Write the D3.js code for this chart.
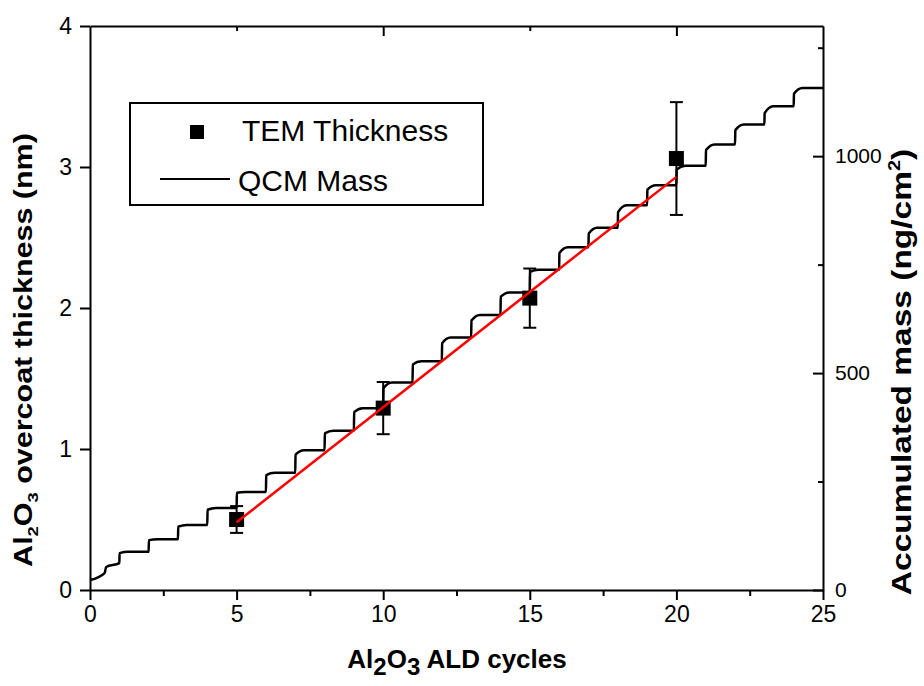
<html>
<head>
  <meta charset="utf-8">
  <title>Al2O3 overcoat thickness vs ALD cycles</title>
  <script src="https://d3js.org/d3.v7.min.js"></script>
  <style>
    body { margin: 0; background: #fff; }
    text { font-family: "Liberation Sans", Arial, sans-serif; fill: #000; }
    .axis path, .axis line { stroke: #000; stroke-width: 2; }
    .axis text { font-size: 23px; }
  </style>
</head>
<body>
<script>
// ---- data ----
// TEM thickness points (nm) with error bars
const temCycles = [5, 10, 15, 20];
const temThickness = [0.50, 1.29, 2.07, 3.06];
const temError = [0.095, 0.185, 0.21, 0.40];

// red linear fit (end points, nm)
const fitCycles = [5, 20];
const fitThickness = [0.48, 2.93];

// QCM mass (ng/cm2): first cycle trace, then one plateau per ALD cycle
const qcmFirstCycles = [0, 0.5, 0.55, 1];
const qcmFirstMass = [23, 39, 53, 62];
const qcmStepCycles = [1, 2, 3, 4, 5, 6, 7, 8, 9, 10, 11, 12, 13, 14, 15, 16, 17, 18, 19, 20, 21, 22, 23, 24];
const qcmStepLow = [85, 115, 146, 185, 224, 265, 312, 361, 410, 465, 520, 569, 621, 676, 733, 777, 822, 871, 923, 969, 1014, 1060, 1099, 1144];
const qcmStepHigh = [88, 117, 150, 189, 226, 270, 322, 367, 419, 478, 527, 582, 634, 686, 738, 790, 835, 887, 933, 978, 1027, 1073, 1115, 1157];

// ticks
const xTicks = [0, 5, 10, 15, 20, 25];
const xMinor = [2.5, 7.5, 12.5, 17.5, 22.5];
const topMajor = [10, 20];
const topMinor = [5, 15];
const yLeftTicks = [0, 1, 2, 3, 4];
const yRightTicks = [0, 500, 1000];
const yRightMinor = [250, 750, 1250];

const width = 924, height = 686;
const plotL = 90, plotR = 823, plotT = 26, plotB = 590;

const svg = d3.select('body').append('svg')
  .attr('width', width)
  .attr('height', height);

const x = d3.scaleLinear().domain([0, 25]).range([plotL, plotR]);
const yL = d3.scaleLinear().domain([0, 4]).range([plotB, plotT]);
const yR = d3.scaleLinear().domain([0, 1300]).range([plotB, plotT]);
const fmt = d3.format('d');

// minor ticks first so the main axes sit on top
svg.append('g').attr('class', 'axis')
  .attr('transform', `translate(0,${plotB})`)
  .call(d3.axisBottom(x).tickValues(xMinor).tickSize(6).tickSizeOuter(0).tickFormat(''))
  .select('.domain').remove();

svg.append('g').attr('class', 'axis')
  .attr('transform', `translate(0,${plotT})`)
  .call(d3.axisTop(x).tickValues(topMinor).tickSize(-5).tickSizeOuter(0).tickFormat(''))
  .select('.domain').remove();

svg.append('g').attr('class', 'axis')
  .attr('transform', `translate(0,${plotT})`)
  .call(d3.axisTop(x).tickValues(topMajor).tickSize(-10).tickSizeOuter(0).tickFormat(''));

svg.append('g').attr('class', 'axis')
  .attr('transform', `translate(${plotR},0)`)
  .call(d3.axisRight(yR).tickValues(yRightMinor).tickSize(-5).tickSizeOuter(0).tickFormat(''))
  .select('.domain').remove();

svg.append('g').attr('class', 'axis')
  .attr('transform', `translate(${plotR},0)`)
  .call(d3.axisRight(yR).tickValues(yRightTicks).tickSize(-10).tickSizeOuter(0).tickPadding(12).tickFormat(fmt))
  .selectAll('text').style('font-size', '21px');

svg.append('g').attr('class', 'axis')
  .attr('transform', `translate(0,${plotB})`)
  .call(d3.axisBottom(x).tickValues(xTicks).tickSize(10).tickSizeOuter(0).tickPadding(6).tickFormat(fmt));

svg.append('g').attr('class', 'axis')
  .attr('transform', `translate(${plotL},0)`)
  .call(d3.axisLeft(yL).tickValues(yLeftTicks).tickSize(10).tickSizeOuter(0).tickPadding(8).tickFormat(fmt));

// QCM staircase
const qcmPts = qcmFirstCycles.map((c, i) => [c, qcmFirstMass[i]]);
qcmStepCycles.forEach((c, i) => {
  qcmPts.push([c + 0.01, qcmStepLow[i]]);
  qcmPts.push([c + 0.3, qcmStepHigh[i]]);
  qcmPts.push([c + 1, qcmStepHigh[i]]);
});
const qcmLine = d3.line()
  .x(d => x(d[0]))
  .y(d => yR(d[1]))
  .curve(d3.curveMonotoneX);
svg.append('path')
  .datum(qcmPts)
  .attr('d', qcmLine)
  .attr('fill', 'none')
  .attr('stroke', '#000')
  .attr('stroke-width', 2.5)
  .attr('stroke-linejoin', 'round');

// TEM error bars + squares
const tem = temCycles.map((c, i) => ({c: c, t: temThickness[i], e: temError[i]}));
const bars = svg.append('g').attr('stroke', '#000').attr('stroke-width', 2);
bars.selectAll('line.v').data(tem).enter().append('line')
  .attr('x1', d => x(d.c)).attr('x2', d => x(d.c))
  .attr('y1', d => yL(d.t - d.e)).attr('y2', d => yL(d.t + d.e));
bars.selectAll('line.top').data(tem).enter().append('line')
  .attr('x1', d => x(d.c) - 6.5).attr('x2', d => x(d.c) + 6.5)
  .attr('y1', d => yL(d.t + d.e)).attr('y2', d => yL(d.t + d.e));
bars.selectAll('line.bot').data(tem).enter().append('line')
  .attr('x1', d => x(d.c) - 6.5).attr('x2', d => x(d.c) + 6.5)
  .attr('y1', d => yL(d.t - d.e)).attr('y2', d => yL(d.t - d.e));
svg.append('g').selectAll('rect').data(tem).enter().append('rect')
  .attr('x', d => x(d.c) - 7.5).attr('y', d => yL(d.t) - 7.5)
  .attr('width', 15).attr('height', 15)
  .attr('fill', '#000');

// red fit line
svg.append('path')
  .datum(fitCycles.map((c, i) => [c, fitThickness[i]]))
  .attr('d', d3.line().x(d => x(d[0])).y(d => yL(d[1])))
  .attr('stroke', '#f00')
  .attr('stroke-width', 2.5)
  .attr('fill', 'none');

// legend
const lg = svg.append('g');
lg.append('rect').attr('x', 130).attr('y', 103).attr('width', 353).attr('height', 102)
  .attr('fill', '#fff').attr('stroke', '#000').attr('stroke-width', 2);
lg.append('rect').attr('x', 190).attr('y', 125).attr('width', 14).attr('height', 14).attr('fill', '#000');
lg.append('text').attr('x', 242).attr('y', 141).style('font-size', '30px').text('TEM Thickness');
lg.append('line').attr('x1', 160).attr('x2', 230).attr('y1', 179).attr('y2', 179)
  .attr('stroke', '#000').attr('stroke-width', 2);
lg.append('text').attr('x', 238).attr('y', 191).style('font-size', '30px').text('QCM Mass');

// axis titles
const xt = svg.append('text')
  .attr('x', 457).attr('y', 668)
  .attr('text-anchor', 'middle')
  .style('font-size', '26px').style('font-weight', 'bold');
xt.append('tspan').text('Al');
xt.append('tspan').attr('dy', 7).style('font-size', '24px').text('2');
xt.append('tspan').attr('dy', -7).text('O');
xt.append('tspan').attr('dy', 7).style('font-size', '24px').text('3');
xt.append('tspan').attr('dy', -7).text(' ALD cycles');

const ylt = svg.append('text')
  .attr('transform', 'translate(32,350) rotate(-90) scale(1.22,1)')
  .attr('text-anchor', 'middle')
  .style('font-size', '25px').style('font-weight', 'bold');
ylt.append('tspan').text('Al');
ylt.append('tspan').attr('dy', 6).style('font-size', '15px').text('2');
ylt.append('tspan').attr('dy', -6).text('O');
ylt.append('tspan').attr('dy', 6).style('font-size', '15px').text('3');
ylt.append('tspan').attr('dy', -6).text(' overcoat thickness (nm)');

const yrt = svg.append('text')
  .attr('transform', 'translate(911,372) rotate(-90) scale(1.24,1)')
  .attr('text-anchor', 'middle')
  .style('font-size', '27px').style('font-weight', 'bold');
yrt.append('tspan').text('Accumulated mass (ng/cm');
yrt.append('tspan').attr('dy', -11).style('font-size', '16px').text('2');
yrt.append('tspan').attr('dy', 11).text(')');
</script>
</body>
</html>
